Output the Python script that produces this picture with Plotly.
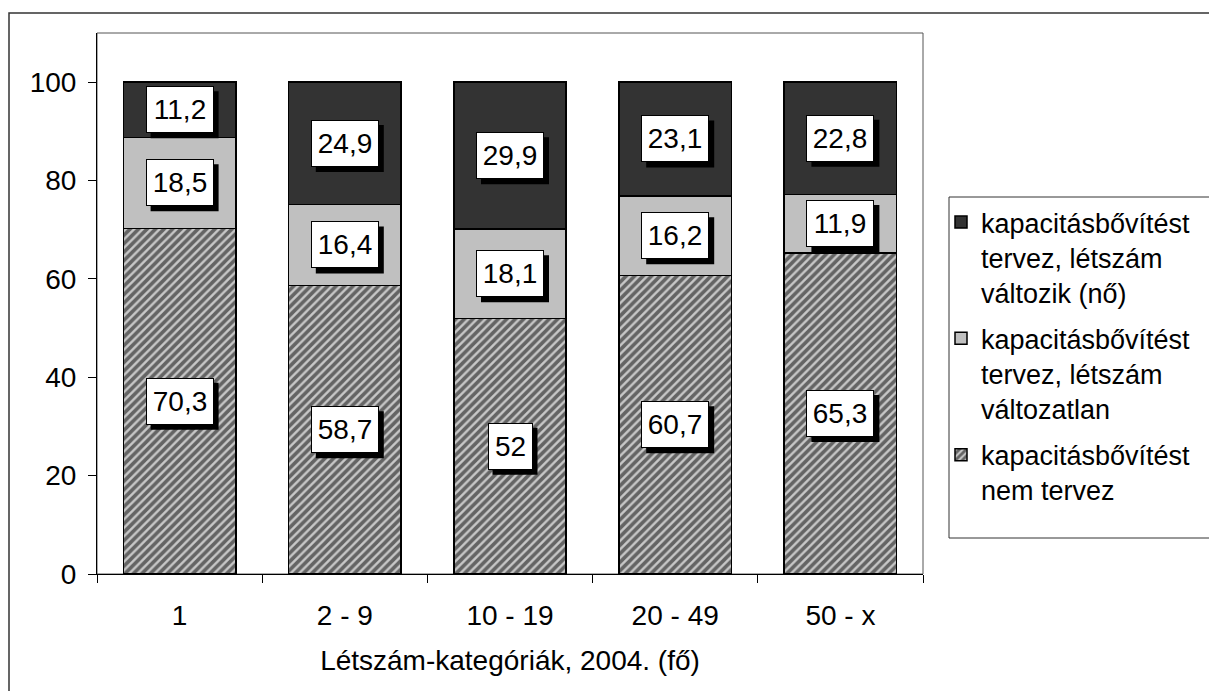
import plotly.graph_objects as go

# Létszám-kategóriák és a három válaszcsoport megoszlása (%)
categories = ["1", "2 - 9", "10 - 19", "20 - 49", "50 - x"]
nem_tervez = [70.3, 58.7, 52, 60.7, 65.3]
valtozatlan = [18.5, 16.4, 18.1, 16.2, 11.9]
no_letszam = [11.2, 24.9, 29.9, 23.1, 22.8]
y_ticks = [0, 20, 40, 60, 80, 100]

name_nem = "kapacitásbővítést<br>nem tervez"
name_valt = "kapacitásbővítést<br>tervez, létszám<br>változatlan"
name_no = "kapacitásbővítést<br>tervez, létszám<br>változik (nő)"

FONT = "Liberation Sans, Arial, sans-serif"
LINE = dict(color="black", width=1.5)
LABEL_SIZE = 28
PAD, BW, TEXT_H = 6, 1, 33
SHADOW = 5

fig = go.Figure()
fig.add_trace(go.Bar(
    x=categories, y=nem_tervez, name=name_nem,
    legendgroup="nem", legendrank=3,
    marker=dict(color="black", line=LINE,
                pattern=dict(shape="/", bgcolor="#c8c8c8", fgcolor="black",
                             size=6, solidity=0.6)),
))
fig.add_trace(go.Bar(
    x=categories, y=valtozatlan, name=name_valt,
    legendgroup="valt", legendrank=2,
    marker=dict(color="#c0c0c0", line=LINE),
))
fig.add_trace(go.Bar(
    x=categories, y=no_letszam, name=name_no,
    legendgroup="no", legendrank=1,
    marker=dict(color="#333333", line=LINE),
))


def fmt(v):
    s = f"{v:.1f}".replace(".", ",")
    return s[:-2] if s.endswith(",0") else s


def text_width(s):
    # Arial-kompatibilis betűszélességek (em)
    return sum(0.278 if ch == "," else 0.556 for ch in s) * LABEL_SIZE


# Értékcímkék fehér dobozban, fekete árnyékkal, a szakaszok közepén
annotations = []
shapes = []
bottoms = [0] * len(categories)
for series in (nem_tervez, valtozatlan, no_letszam):
    for i, v in enumerate(series):
        mid = bottoms[i] + v / 2
        label = fmt(v)
        tw = round(text_width(label))
        ow = tw + 2 * (PAD + BW)
        oh = TEXT_H + 2 * (PAD + BW)
        shapes.append(dict(
            type="rect", xref="x", yref="y",
            xsizemode="pixel", ysizemode="pixel",
            xanchor=i, yanchor=mid,
            x0=-ow / 2 + SHADOW, x1=ow / 2 + SHADOW,
            y0=-oh / 2 - SHADOW, y1=oh / 2 - SHADOW,
            fillcolor="black", line=dict(width=0), layer="above",
        ))
        annotations.append(dict(
            x=i, y=mid, xref="x", yref="y", showarrow=False, text=label,
            width=tw, height=TEXT_H, align="center", valign="middle",
            borderpad=PAD, borderwidth=BW,
            bgcolor="white", bordercolor="black",
            font=dict(family=FONT, size=LABEL_SIZE, color="black"),
        ))
    bottoms = [b + v for b, v in zip(bottoms, series)]

# Keretek: külső diagramterület, rajzterület, jelmagyarázat doboza
W, H = 1209, 691
L, R, T, B = 97, 923, 33, 574


def px_x(p):
    return (p - L) / (R - L)


def px_y(p):
    return (B - p) / (B - T)


shapes += [
    dict(type="rect", xref="paper", yref="paper",
         x0=px_x(9), x1=px_x(1300), y0=px_y(13), y1=px_y(760),
         line=dict(color="#333333", width=1.5), layer="below"),
    dict(type="rect", xref="paper", yref="paper",
         x0=0, x1=1, y0=0, y1=1,
         line=dict(color="#555555", width=1), layer="below"),
    dict(type="rect", xref="paper", yref="paper",
         x0=px_x(949), x1=px_x(1300), y0=px_y(197), y1=px_y(538),
         line=dict(color="#333333", width=1)),
]

fig.update_layout(
    barmode="stack",
    bargap=0.32,
    width=W, height=H,
    margin=dict(l=L, r=W - R, t=T, b=H - B, autoexpand=False),
    paper_bgcolor="white",
    plot_bgcolor="white",
    font=dict(family=FONT, size=28, color="black"),
    showlegend=True,
    legend=dict(
        x=px_x(941), y=px_y(198), xanchor="left", yanchor="top",
        xref="paper", yref="paper",
        traceorder="grouped", valign="top",
        font=dict(family=FONT, size=27, color="black"),
        tracegroupgap=8, bgcolor="rgba(0,0,0,0)", borderwidth=0,
    ),
    annotations=annotations,
    shapes=shapes,
    xaxis=dict(
        type="category",
        showline=True, linecolor="black", linewidth=1,
        ticks="outside", tickson="boundaries", ticklen=8, tickcolor="black",
        showgrid=False, ticklabelstandoff=16,
        title=dict(text="Létszám-kategóriák, 2004. (fő)", standoff=20,
                   font=dict(family=FONT, size=28)),
    ),
    yaxis=dict(
        range=[0, 110], tickvals=y_ticks,
        showline=True, linecolor="black", linewidth=1,
        ticks="outside", ticklen=8, tickcolor="black",
        showgrid=False, zeroline=False, ticklabelstandoff=6,
    ),
)

fig.write_html("out.html")
